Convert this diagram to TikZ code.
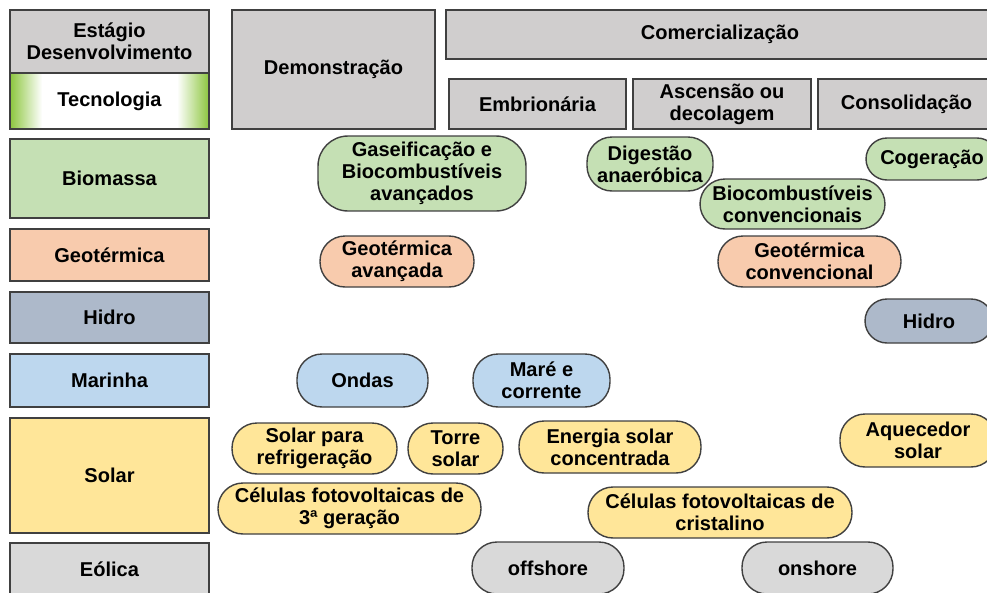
\documentclass[tikz,border=0pt]{standalone}
\usepackage{fontspec}
\setmainfont{Liberation Sans}
\definecolor{cinza}{HTML}{D0CECE}
\definecolor{verde}{HTML}{C5E0B4}
\definecolor{laranja}{HTML}{F8CBAD}
\definecolor{azulhidro}{HTML}{ADB9CA}
\definecolor{azulmar}{HTML}{BDD7EE}
\definecolor{amarelo}{HTML}{FFE699}
\definecolor{cinzaeol}{HTML}{D9D9D9}
\definecolor{verdetec}{HTML}{8CC63E}
\definecolor{borda}{HTML}{404040}
\tikzset{
	caixa/.style={draw=borda, line width=0.8pt, align=center, inner sep=0pt, font=\fontsize{11.4}{12.6}\selectfont\bfseries},
	pilula/.style={caixa, rounded corners=#1},
	pilula/.default=0.5cm
}

\begin{document}
\begin{tikzpicture}[x=0.02cm, y=-0.02cm]
			%%%%% START %%%%%
			\useasboundingbox (0,0) rectangle (987,592);
			\clip (0,0) rectangle (987,592);
			
			% coluna da esquerda
			\node[caixa, fill=cinza, minimum width=3.98cm, minimum height=1.26cm] (estagio) at (109.5,41.5) {Estágio\\Desenvolvimento};
			\shade[left color=verdetec, right color=white] (10,73) rectangle (42,129);
			\shade[left color=white, right color=verdetec] (177,73) rectangle (209,129);
			\node[caixa, minimum width=3.98cm, minimum height=1.12cm] (tecnologia) at (109.5,101) {Tecnologia};
			\node[caixa, fill=verde, minimum width=3.98cm, minimum height=1.58cm] (biomassa) at (109.5,178.5) {Biomassa};
			\node[caixa, fill=laranja, minimum width=3.98cm, minimum height=1.04cm] (geotermica) at (109.5,255) {Geotérmica};
			\node[caixa, fill=azulhidro, minimum width=3.98cm, minimum height=1.02cm] (hidro) at (109.5,317.5) {Hidro};
			\node[caixa, fill=azulmar, minimum width=3.98cm, minimum height=1.06cm] (marinha) at (109.5,380.5) {Marinha};
			\node[caixa, fill=amarelo, minimum width=3.98cm, minimum height=2.30cm] (solar) at (109.5,475.5) {Solar};
			\node[caixa, fill=cinzaeol, minimum width=3.98cm, minimum height=1.04cm] (eolica) at (109.5,569) {Eólica};
			
			% estagios
			\node[caixa, fill=cinza, minimum width=4.06cm, minimum height=2.38cm] (demonstracao) at (333.5,69.5) {Demonstração};
			\node[caixa, fill=cinza, minimum width=10.96cm, minimum height=0.98cm] (comercializacao) at (720,34.5) {Comercialização};
			\node[caixa, fill=cinza, minimum width=3.54cm, minimum height=1cm] (embrionaria) at (537.5,104) {Embrionária};
			\node[caixa, fill=cinza, minimum width=3.56cm, minimum height=1cm] (ascensao) at (722,104) {Ascensão ou\\decolagem};
			\node[caixa, fill=cinza, minimum width=3.54cm, minimum height=1cm] (consolidacao) at (906.5,104) {Consolidação};
			
			% biomassa
			\node[pilula=0.6cm, fill=verde, minimum width=4.16cm, minimum height=1.5cm] (gaseificacao) at (422,173.5) {Gaseificação e\\Biocombustíveis\\avançados};
			\node[pilula, fill=verde, minimum width=2.52cm, minimum height=1.08cm] (digestao) at (650,164) {Digestão\\anaeróbica};
			\node[pilula=0.42cm, fill=verde, minimum width=2.64cm, minimum height=0.84cm] (cogeracao) at (932,159) {Cogeração};
			\node[pilula, fill=verde, minimum width=3.70cm, minimum height=1cm] (biocombustiveis) at (792.5,204) {Biocombustíveis\\convencionais};
			
			% geotermica
			\node[pilula, fill=laranja, minimum width=3.08cm, minimum height=1.02cm] (geoavancada) at (397,261.5) {Geotérmica\\avançada};
			\node[pilula, fill=laranja, minimum width=3.66cm, minimum height=1.02cm] (geoconvencional) at (809.5,261.5) {Geotérmica\\convencional};
			
			% hidro
			\node[pilula=0.44cm, fill=azulhidro, minimum width=2.56cm, minimum height=0.88cm] (hidrocons) at (929,321) {Hidro};
			
			% marinha
			\node[pilula, fill=azulmar, minimum width=2.62cm, minimum height=1.06cm] (ondas) at (362.5,380.5) {Ondas};
			\node[pilula, fill=azulmar, minimum width=2.74cm, minimum height=1.06cm] (mare) at (541.5,380.5) {Maré e\\corrente};
			
			% solar
			\node[pilula, fill=amarelo, minimum width=3.30cm, minimum height=1.02cm] (refrigeracao) at (314.5,448.5) {Solar para\\refrigeração};
			\node[pilula, fill=amarelo, minimum width=1.90cm, minimum height=1.02cm] (torre) at (455.5,448.5) {Torre\\solar};
			\node[pilula, fill=amarelo, minimum width=3.64cm, minimum height=1.04cm] (concentrada) at (610,447) {Energia solar\\concentrada};
			\node[pilula, fill=amarelo, minimum width=3.12cm, minimum height=1.06cm] (aquecedor) at (918,440.5) {Aquecedor\\solar};
			\node[pilula, fill=amarelo, minimum width=5.26cm, minimum height=1.02cm] (terceirager) at (349.5,508.5) {Células fotovoltaicas de\\3ª geração};
			\node[pilula, fill=amarelo, minimum width=5.28cm, minimum height=1.02cm] (cristalino) at (720,512.5) {Células fotovoltaicas de\\cristalino};
			
			% eolica
			\node[pilula, fill=cinzaeol, minimum width=3.04cm, minimum height=1.04cm] (offshore) at (548,568) {offshore};
			\node[pilula, fill=cinzaeol, minimum width=3.02cm, minimum height=1.04cm] (onshore) at (817.5,568) {onshore};
			%%%%% END %%%%%
\end{tikzpicture}
\end{document}
